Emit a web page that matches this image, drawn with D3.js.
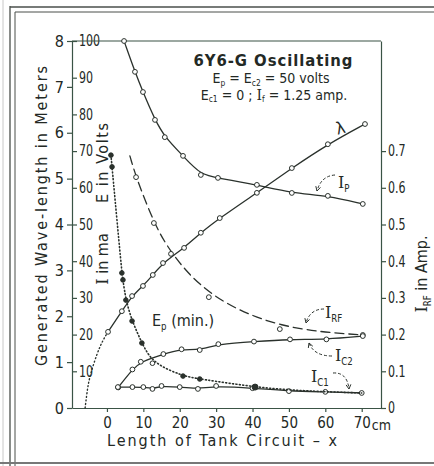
<!DOCTYPE html>
<html>
<head>
<meta charset="utf-8">
<script src="https://cdn.jsdelivr.net/npm/d3@7"></script>
<style>
  body { margin: 0; background: #fff; }
  svg text { font-family: "DejaVu Sans Condensed", "DejaVu Sans", sans-serif; fill: #232925; }
</style>
</head>
<body>
<svg id="chart" width="434" height="466"></svg>
<script>
// tank circuit length, cm
const lambdaX = [0.3, 4.1, 6.9, 9.9, 12.6, 15.4, 21.2, 25.8, 31, 41.2, 50.8, 60.7, 70.9];
// generated wave-length, meters
const lambdaM = [1.66, 2.11, 2.44, 2.66, 2.90, 3.16, 3.49, 3.82, 4.14, 4.69, 5.23, 5.75, 6.19];
// dotted extrapolation of the wave-length curve
const lambdaExtX = [-6, -5.5, -4.9, -2.7, -1.1, 0.3];
const lambdaExtM = [0, 0.33, 0.65, 1.2, 1.48, 1.66];

// plate current, ma
const ipX = [4.7, 7.7, 9.9, 13.2, 15.9, 20.9, 25.8, 30.5, 41.2, 50.8, 60.7, 70.3];
const ipMa = [100, 91.6, 86.1, 78.5, 73.8, 68.7, 63.5, 62.7, 60.8, 58.6, 57.8, 55.6];

// RF current, amp (first point has no circle)
const irfX = [6.3, 8, 12.9, 17.6, 28, 47.5, 70.3];
const irfAmp = [0.687, 0.629, 0.504, 0.42, 0.302, 0.215, 0.199];

// screen grid current, ma
const ic2X = [3.1, 7, 9.3, 15.5, 20.5, 25.5, 30.6, 40.4, 50.3, 60.3, 70.3];
const ic2Ma = [5.6, 10.5, 12.6, 14.7, 16.0, 15.8, 17.4, 18.1, 18.7, 18.7, 19.6];

// control grid current, ma
const ic1X = [3, 7, 10, 12.5, 15, 20, 25, 30, 40, 50, 60, 70];
const ic1Ma = [5.7, 5.7, 5.7, 5.2, 6.0, 5.7, 5.2, 6.0, 5.4, 4.6, 4.4, 4.1];

// minimum plate voltage, volts
const epX = [1.1, 1.4, 4.1, 4.4, 5.2, 6.9, 9.6, 12.5, 20.9, 25.5, 40.7, 50.3, 60.4, 70];
const epVolts = [68.9, 65.7, 36.8, 34.9, 29.4, 23.7, 17.7, 12.2, 8.7, 7.9, 5.7, 4.9, 4.4, 4.1];
const epMarker = ["dot", "dot", "dot", "dot", "dot", "dot", "dot", "open", "dot", "dot", "big", "none", "none", "none"];

const xTicks = [0, 10, 20, 30, 40, 50, 60, 70];
const meterTicks = [0, 1, 2, 3, 4, 5, 6, 7, 8];
const voltTicks = [10, 20, 30, 40, 50, 60, 70, 80, 90, 100];
const ampTicks = [0, 0.1, 0.2, 0.3, 0.4, 0.5, 0.6, 0.7];

const svg = d3.select("#chart");
const ink = "#2a312c";
const axisInk = "#3a5345";

const x = d3.scaleLinear().domain([-9.6, 75.3]).range([72, 381]);
const yE = d3.scaleLinear().domain([0, 100]).range([408, 41]);
const yM = d3.scaleLinear().domain([0, 8]).range([408, 41]);
const yA = d3.scaleLinear().domain([0, 1]).range([408, 41]);

// page border
const border = svg.append("g").attr("stroke", "#4a4f4b").attr("fill", "none");
border.append("line").attr("x1", 3).attr("x2", 3).attr("y1", 0).attr("y2", 466).attr("stroke", "#c8c8c8");
border.append("line").attr("x1", 10).attr("x2", 10).attr("y1", 6).attr("y2", 466).attr("stroke-width", 1.3);
border.append("line").attr("x1", 15).attr("x2", 15).attr("y1", 12).attr("y2", 466);
border.append("line").attr("x1", 10).attr("x2", 434).attr("y1", 7).attr("y2", 7).attr("stroke-width", 1.3);
border.append("line").attr("x1", 15).attr("x2", 434).attr("y1", 12).attr("y2", 12);
border.append("line").attr("x1", 0).attr("x2", 434).attr("y1", 463).attr("y2", 463).attr("stroke-width", 2).attr("stroke", "#777");

function styleAxis(g, size) {
  g.attr("font-size", size).attr("color", axisInk);
  g.selectAll("line, path").attr("stroke-width", 1.2);
}

// squeeze tick digits horizontally, like the narrow lettering of the original
function narrow(g, k) {
  g.selectAll(".tick text").each(function () {
    const t = d3.select(this);
    const x0 = +t.attr("x") || 0;
    t.attr("x", x0 / k).attr("transform", `scale(${k},1)`);
  });
}

svg.append("g")
  .attr("transform", `translate(${x.range()[0]},0)`)
  .call(d3.axisLeft(yM).tickValues(meterTicks).tickSize(5).tickPadding(3).tickSizeOuter(0))
  .call(g => styleAxis(g, 16));

svg.append("g")
  .attr("transform", `translate(${x.range()[0]},0)`)
  .call(d3.axisRight(yE).tickValues(voltTicks).tickSize(5).tickPadding(2))
  .call(g => g.select(".domain").remove())
  .call(g => styleAxis(g, 15))
  .call(g => narrow(g, 0.82));

svg.append("g")
  .attr("transform", `translate(${x.range()[1]},0)`)
  .call(d3.axisRight(yA).tickValues(ampTicks).tickSize(5).tickPadding(2).tickSizeOuter(0)
    .tickFormat(d => d === 0 ? "0" : d3.format(".1f")(d)))
  .call(g => styleAxis(g, 15))
  .call(g => narrow(g, 0.82));

svg.append("g")
  .attr("transform", `translate(0,${yE(0)})`)
  .call(d3.axisBottom(x).tickValues(xTicks).tickSize(4).tickPadding(5).tickSizeOuter(0))
  .call(g => styleAxis(g, 15));

// top frame
svg.append("line")
  .attr("x1", x.range()[0]).attr("x2", x.range()[1])
  .attr("y1", yE(100)).attr("y2", yE(100))
  .attr("stroke", axisInk).attr("stroke-width", 1.2);

const pts = (xs, ys, ys2) => xs.map((v, i) => [x(v), ys2(ys[i])]);
const smooth = d3.line().curve(d3.curveBasis);

function curve(xs, ys, scale, dash, width) {
  svg.append("path")
    .attr("d", smooth(pts(xs, ys, scale)))
    .attr("fill", "none").attr("stroke", ink)
    .attr("stroke-width", width || 1.3)
    .attr("stroke-dasharray", dash || null)
    .attr("stroke-linecap", "round");
}

function circles(xs, ys, scale, skip) {
  svg.append("g").selectAll("circle")
    .data(pts(xs, ys, scale).filter((d, i) => !(skip && skip.includes(i))))
    .join("circle")
    .attr("cx", d => d[0]).attr("cy", d => d[1]).attr("r", 2.4)
    .attr("fill", "#fff").attr("stroke", ink).attr("stroke-width", 1);
}

curve(lambdaExtX, lambdaExtM, yM, "1,2.6", 1.4);
curve(lambdaX, lambdaM, yM);
circles(lambdaX, lambdaM, yM);

curve(ipX, ipMa, yE);
circles(ipX, ipMa, yE);

curve(irfX, irfAmp, yA, "9,5");
circles(irfX, irfAmp, yA, [0]);

curve(ic2X, ic2Ma, yE);
circles(ic2X, ic2Ma, yE);

curve(ic1X, ic1Ma, yE);
circles(ic1X, ic1Ma, yE);

curve(epX, epVolts, yE, "1,2.4", 1.6);
svg.append("g").selectAll("circle")
  .data(pts(epX, epVolts, yE).map((p, i) => ({ p, m: epMarker[i] })).filter(d => d.m !== "none"))
  .join("circle")
  .attr("cx", d => d.p[0]).attr("cy", d => d.p[1])
  .attr("r", d => d.m === "big" ? 3 : 2.3)
  .attr("fill", d => d.m === "open" ? "#fff" : ink)
  .attr("stroke", ink).attr("stroke-width", 1);

// text with _{sub} and {I} (serif capital I)
function rich(parent, str, size, attrs, drop) {
  const t = parent.append("text").attr("font-size", size);
  Object.entries(attrs || {}).forEach(([k, v]) => t.attr(k, v));
  const off = size * (drop || 0.25);
  let down = false;
  str.split(/(_\{[^}]*\}|\{I\})/).filter(s => s).forEach(s => {
    const sp = t.append("tspan");
    if (s.startsWith("_{")) {
      sp.text(s.slice(2, -1)).attr("font-size", size * 0.6).attr("dy", down ? 0 : off);
      down = true;
    } else {
      sp.text(s === "{I}" ? "I" : s);
      if (s === "{I}") sp.style("font-family", "'DejaVu Serif', serif");
      if (down) sp.attr("dy", -off);
      down = false;
    }
  });
  return t;
}

// title block
svg.append("text").attr("x", 273).attr("y", 66).attr("text-anchor", "middle")
  .attr("font-size", 16.5).attr("font-weight", "bold").attr("textLength", 159)
  .text("6Y6-G Oscillating");
rich(svg, "E_{p} = E_{c2} = 50 volts", 14, { x: 271, y: 83, "text-anchor": "middle" }, 0.18);
rich(svg, "E_{c1} = 0 ;  {I}_{f} = 1.25 amp.", 14, { x: 274, y: 99.5, "text-anchor": "middle" }, 0.2);

// axis titles
svg.append("text").attr("transform", "translate(47,216) rotate(-90)")
  .attr("text-anchor", "middle").attr("font-size", 16).attr("textLength", 300)
  .text("Generated Wave-length in Meters");
svg.append("text").attr("transform", "translate(108,163) rotate(-90)")
  .attr("text-anchor", "middle").attr("font-size", 16).attr("textLength", 80)
  .text("E in Volts");
rich(svg, "{I} in ma", 16, { transform: "translate(108,259) rotate(-90)", "text-anchor": "middle" });
rich(svg, "{I}_{RF} in Amp.", 16, { transform: "translate(427,274) rotate(-90)", "text-anchor": "middle" });
svg.append("text").attr("x", 222).attr("y", 446).attr("text-anchor", "middle")
  .attr("font-size", 16).attr("textLength", 230)
  .text("Length of Tank Circuit \u2013 x");
svg.append("text").attr("x", x(70) + 10).attr("y", 430).attr("font-size", 14).text("cm");

// curve labels
svg.append("text").attr("x", 336).attr("y", 133).attr("font-size", 17)
  .attr("transform", "rotate(-15,343,128)").text("\u03bb");
rich(svg, "{I}_{P}", 16, { x: 338, y: 188 });
rich(svg, "{I}_{RF}", 16, { x: 325, y: 318 });
rich(svg, "{I}_{C2}", 16, { x: 335, y: 361 });
rich(svg, "{I}_{C1}", 16, { x: 311, y: 382 });
rich(svg, "E_{p} (min.)", 16, { x: 152, y: 326 });

// dashed pointers from labels to curves
function pointer(sx, sy, cx, cy, tx, ty) {
  svg.append("path").attr("d", `M${sx},${sy} Q${cx},${cy} ${tx},${ty}`)
    .attr("fill", "none").attr("stroke", ink).attr("stroke-width", 1)
    .attr("stroke-dasharray", "3,2");
  const a = Math.atan2(ty - cy, tx - cx);
  [-0.5, 0.5].forEach(o => {
    svg.append("line").attr("x1", tx).attr("y1", ty)
      .attr("x2", tx - 5 * Math.cos(a + o)).attr("y2", ty - 5 * Math.sin(a + o))
      .attr("stroke", ink).attr("stroke-width", 1);
  });
}
pointer(335, 175, 321, 176, 317, 191);
pointer(324, 309, 310, 309, 306, 323);
pointer(332, 356, 314, 356, 309, 343);
pointer(333, 373, 347, 372, 349, 389);
</script>
</body>
</html>
